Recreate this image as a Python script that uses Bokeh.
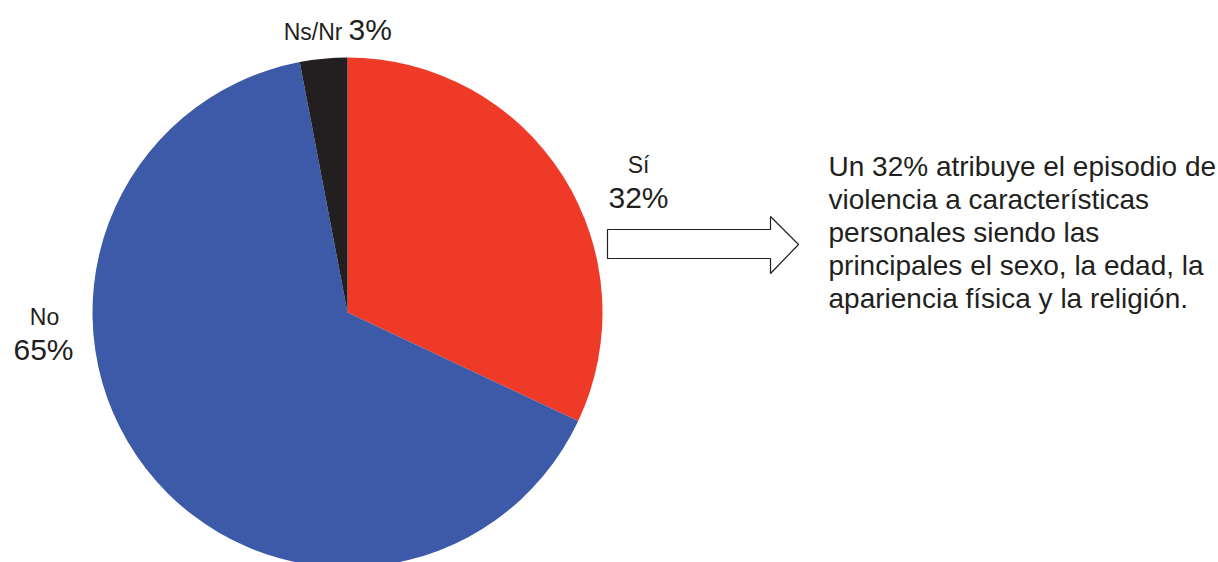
from bokeh.plotting import figure
from bokeh.models import Range1d, ColumnDataSource
from bokeh.core.properties import value
from bokeh.embed import file_html
from bokeh.resources import INLINE
import math

categories = ["Sí", "No", "Ns/Nr"]
shares = [32, 65, 3]
pct_labels = ["32%", "65%", "3%"]
colors = ["#EE3A27", "#3D5AA8", "#231F20"]
note_lines = [
    "Un 32% atribuye el episodio de",
    "violencia a características",
    "personales siendo las",
    "principales el sexo, la edad, la",
    "apariencia física y la religión.",
]

H = 562
FONT = value("Liberation Sans")

p = figure(width=1218, height=562, output_backend="svg", toolbar_location=None,
           x_range=Range1d(0, 1218), y_range=Range1d(0, 562), min_border=0)
p.axis.visible = False
p.grid.visible = False
p.outline_line_color = None
p.background_fill_color = "white"

cx, cy, r = 347, H - 312, 255
# clockwise from 12 o'clock
total = sum(shares)
starts, ends = [], []
acc = 0.0
for s in shares:
    a0 = math.pi / 2 - 2 * math.pi * acc / total
    a1 = math.pi / 2 - 2 * math.pi * (acc + s) / total
    starts.append(a1)
    ends.append(a0)
    acc += s
src = ColumnDataSource(dict(start=starts, end=ends, color=colors))
p.wedge(x=cx, y=cy, radius=r, start_angle="start", end_angle="end",
        fill_color="color", line_color=None, source=src)

SMALL, BIG = "23px", "30px"
# labels
p.text(x=[638], y=[H - 164], text=[categories[0]], text_font=FONT, text_font_size=SMALL,
       text_align="center", text_baseline="middle", text_color="#231F20")
p.text(x=[638], y=[H - 197], text=[pct_labels[0]], text_font=FONT, text_font_size=BIG,
       text_align="center", text_baseline="middle", text_color="#231F20")
p.text(x=[44], y=[H - 316], text=[categories[1]], text_font=FONT, text_font_size=SMALL,
       text_align="center", text_baseline="middle", text_color="#231F20")
p.text(x=[43], y=[H - 349], text=[pct_labels[1]], text_font=FONT, text_font_size=BIG,
       text_align="center", text_baseline="middle", text_color="#231F20")
p.text(x=[342], y=[H - 31], text=[categories[2]], text_font=FONT, text_font_size=SMALL,
       text_align="right", text_baseline="middle", text_color="#231F20")
p.text(x=[348], y=[H - 29], text=[pct_labels[2]], text_font=FONT, text_font_size=BIG,
       text_align="left", text_baseline="middle", text_color="#231F20")

# arrow
ax = [607, 770, 770, 798, 770, 770, 607]
ay = [229, 229, 216, 244, 273, 258, 258]
p.patch(x=ax, y=[H - v for v in ay], fill_color="white", line_color="#231F20", line_width=1.2)

# note text
ys = [166 + 33 * i for i in range(len(note_lines))]
p.text(x=[828] * len(note_lines), y=[H - v for v in ys], text=note_lines, text_font=FONT,
       text_font_size="28px", text_align="left", text_baseline="middle", text_color="#231F20")

open("out.html", "w").write(file_html(p, INLINE))
